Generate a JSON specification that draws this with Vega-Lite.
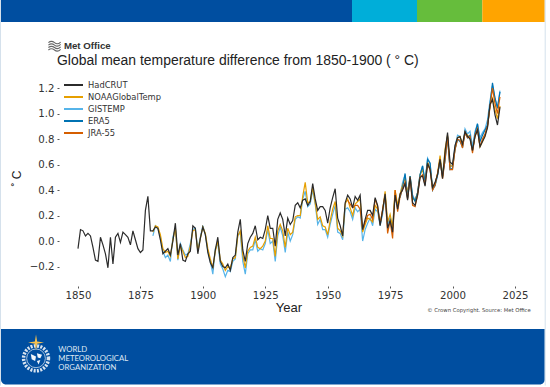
{"$schema":"https://vega.github.io/schema/vega-lite/v6.json","width":460,"height":204,"autosize":{"type":"none"},"padding":{"left":66,"top":80,"right":24,"bottom":103},"background":"#ffffff",
"data":{"values":[{"decoration":"frame"}]},
"title":{"text":"Global mean temperature difference from 1850-1900 ( ° C)","anchor":"start","frame":"group","dx":-9,"dy":77,"offset":9,"font":"Liberation Sans","fontSize":13.94,"fontWeight":"normal","color":"#222222"},
"config":{"view":{"stroke":null}},
"layer":[
{"data":{"values":[
{"year":1850,"HadCRUT":-0.06},{"year":1851,"HadCRUT":0.09},{"year":1852,"HadCRUT":0.08},{"year":1853,"HadCRUT":0.04},{"year":1854,"HadCRUT":0.06},{"year":1855,"HadCRUT":0.04},{"year":1856,"HadCRUT":-0.05},{"year":1857,"HadCRUT":-0.15},{"year":1858,"HadCRUT":-0.16},{"year":1859,"HadCRUT":0.03},
{"year":1860,"HadCRUT":-0.03},{"year":1861,"HadCRUT":-0.10},{"year":1862,"HadCRUT":-0.21},{"year":1863,"HadCRUT":0.03},{"year":1864,"HadCRUT":-0.18},{"year":1865,"HadCRUT":0.03},{"year":1866,"HadCRUT":0.06},{"year":1867,"HadCRUT":-0.01},{"year":1868,"HadCRUT":0.07},{"year":1869,"HadCRUT":0.05},
{"year":1870,"HadCRUT":0.03},{"year":1871,"HadCRUT":-0.03},{"year":1872,"HadCRUT":0.08},{"year":1873,"HadCRUT":0.01},{"year":1874,"HadCRUT":-0.06},{"year":1875,"HadCRUT":-0.09},{"year":1876,"HadCRUT":-0.07},{"year":1877,"HadCRUT":0.24},{"year":1878,"HadCRUT":0.35},{"year":1879,"HadCRUT":0.08},
{"year":1880,"HadCRUT":0.08,"GISTEMP":0.04,"NOAAGlobalTemp":0.07},{"year":1881,"HadCRUT":0.11,"GISTEMP":0.12,"NOAAGlobalTemp":0.12},{"year":1882,"HadCRUT":0.10,"GISTEMP":0.10,"NOAAGlobalTemp":0.11},{"year":1883,"HadCRUT":0.01,"GISTEMP":0.03,"NOAAGlobalTemp":0.05},{"year":1884,"HadCRUT":-0.10,"GISTEMP":-0.08,"NOAAGlobalTemp":-0.06},{"year":1885,"HadCRUT":-0.08,"GISTEMP":-0.13,"NOAAGlobalTemp":-0.09},{"year":1886,"HadCRUT":-0.06,"GISTEMP":-0.11,"NOAAGlobalTemp":-0.08},{"year":1887,"HadCRUT":-0.11,"GISTEMP":-0.16,"NOAAGlobalTemp":-0.12},{"year":1888,"HadCRUT":0.00,"GISTEMP":0.03,"NOAAGlobalTemp":0.01},{"year":1889,"HadCRUT":0.14,"GISTEMP":0.10,"NOAAGlobalTemp":0.10},
{"year":1890,"HadCRUT":-0.11,"GISTEMP":-0.15,"NOAAGlobalTemp":-0.14},{"year":1891,"HadCRUT":-0.02,"GISTEMP":-0.02,"NOAAGlobalTemp":-0.04},{"year":1892,"HadCRUT":-0.15,"GISTEMP":-0.07,"NOAAGlobalTemp":-0.08},{"year":1893,"HadCRUT":-0.16,"GISTEMP":-0.11,"NOAAGlobalTemp":-0.13},{"year":1894,"HadCRUT":-0.10,"GISTEMP":-0.10,"NOAAGlobalTemp":-0.12},{"year":1895,"HadCRUT":-0.08,"GISTEMP":-0.02,"NOAAGlobalTemp":-0.04},{"year":1896,"HadCRUT":0.12,"GISTEMP":0.09,"NOAAGlobalTemp":0.08},{"year":1897,"HadCRUT":0.10,"GISTEMP":0.10,"NOAAGlobalTemp":0.09},{"year":1898,"HadCRUT":-0.10,"GISTEMP":-0.07,"NOAAGlobalTemp":-0.08},{"year":1899,"HadCRUT":0.02,"GISTEMP":0.03,"NOAAGlobalTemp":0.02},
{"year":1900,"HadCRUT":0.11,"GISTEMP":0.12,"NOAAGlobalTemp":0.11},{"year":1901,"HadCRUT":0.05,"GISTEMP":0.05,"NOAAGlobalTemp":0.06},{"year":1902,"HadCRUT":-0.09,"GISTEMP":-0.08,"NOAAGlobalTemp":-0.06},{"year":1903,"HadCRUT":-0.17,"GISTEMP":-0.16,"NOAAGlobalTemp":-0.14},{"year":1904,"HadCRUT":-0.21,"GISTEMP":-0.26,"NOAAGlobalTemp":-0.21},{"year":1905,"HadCRUT":-0.07,"GISTEMP":-0.06,"NOAAGlobalTemp":-0.08},{"year":1906,"HadCRUT":0.03,"GISTEMP":-0.02,"NOAAGlobalTemp":0.00},{"year":1907,"HadCRUT":-0.16,"GISTEMP":-0.18,"NOAAGlobalTemp":-0.15},{"year":1908,"HadCRUT":-0.20,"GISTEMP":-0.22,"NOAAGlobalTemp":-0.18},{"year":1909,"HadCRUT":-0.21,"GISTEMP":-0.28,"NOAAGlobalTemp":-0.23},
{"year":1910,"HadCRUT":-0.18,"GISTEMP":-0.23,"NOAAGlobalTemp":-0.20},{"year":1911,"HadCRUT":-0.23,"GISTEMP":-0.24,"NOAAGlobalTemp":-0.21},{"year":1912,"HadCRUT":-0.13,"GISTEMP":-0.16,"NOAAGlobalTemp":-0.14},{"year":1913,"HadCRUT":-0.11,"GISTEMP":-0.14,"NOAAGlobalTemp":-0.13},{"year":1914,"HadCRUT":0.07,"GISTEMP":0.05,"NOAAGlobalTemp":0.04},{"year":1915,"HadCRUT":0.17,"GISTEMP":0.06,"NOAAGlobalTemp":0.08},{"year":1916,"HadCRUT":-0.07,"GISTEMP":-0.16,"NOAAGlobalTemp":-0.11},{"year":1917,"HadCRUT":-0.16,"GISTEMP":-0.26,"NOAAGlobalTemp":-0.21},{"year":1918,"HadCRUT":-0.02,"GISTEMP":-0.10,"NOAAGlobalTemp":-0.08},{"year":1919,"HadCRUT":0.03,"GISTEMP":-0.07,"NOAAGlobalTemp":-0.05},
{"year":1920,"HadCRUT":0.06,"GISTEMP":-0.07,"NOAAGlobalTemp":-0.04},{"year":1921,"HadCRUT":0.12,"GISTEMP":0.01,"NOAAGlobalTemp":0.03},{"year":1922,"HadCRUT":0.01,"GISTEMP":-0.08,"NOAAGlobalTemp":-0.05},{"year":1923,"HadCRUT":0.03,"GISTEMP":-0.06,"NOAAGlobalTemp":-0.06},{"year":1924,"HadCRUT":0.02,"GISTEMP":-0.07,"NOAAGlobalTemp":-0.04},{"year":1925,"HadCRUT":0.09,"GISTEMP":-0.02,"NOAAGlobalTemp":0.00},{"year":1926,"HadCRUT":0.20,"GISTEMP":0.09,"NOAAGlobalTemp":0.12},{"year":1927,"HadCRUT":0.10,"GISTEMP":-0.02,"NOAAGlobalTemp":0.02},{"year":1928,"HadCRUT":0.10,"GISTEMP":0.00,"NOAAGlobalTemp":0.02},{"year":1929,"HadCRUT":-0.04,"GISTEMP":-0.16,"NOAAGlobalTemp":-0.12},
{"year":1930,"HadCRUT":0.17,"GISTEMP":0.04,"NOAAGlobalTemp":0.08},{"year":1931,"HadCRUT":0.22,"GISTEMP":0.11,"NOAAGlobalTemp":0.13},{"year":1932,"HadCRUT":0.17,"GISTEMP":0.04,"NOAAGlobalTemp":0.08},{"year":1933,"HadCRUT":0.04,"GISTEMP":-0.09,"NOAAGlobalTemp":-0.05},{"year":1934,"HadCRUT":0.18,"GISTEMP":0.07,"NOAAGlobalTemp":0.10},{"year":1935,"HadCRUT":0.13,"GISTEMP":0.00,"NOAAGlobalTemp":0.05},{"year":1936,"HadCRUT":0.16,"GISTEMP":0.05,"NOAAGlobalTemp":0.07},{"year":1937,"HadCRUT":0.28,"GISTEMP":0.17,"NOAAGlobalTemp":0.19},{"year":1938,"HadCRUT":0.30,"GISTEMP":0.19,"NOAAGlobalTemp":0.20},{"year":1939,"HadCRUT":0.26,"GISTEMP":0.18,"NOAAGlobalTemp":0.20},
{"year":1940,"HadCRUT":0.32,"GISTEMP":0.33,"NOAAGlobalTemp":0.35},{"year":1941,"HadCRUT":0.33,"GISTEMP":0.39,"NOAAGlobalTemp":0.46},{"year":1942,"HadCRUT":0.28,"GISTEMP":0.27,"NOAAGlobalTemp":0.30},{"year":1943,"HadCRUT":0.31,"GISTEMP":0.29,"NOAAGlobalTemp":0.31},{"year":1944,"HadCRUT":0.45,"GISTEMP":0.40,"NOAAGlobalTemp":0.42},{"year":1945,"HadCRUT":0.33,"GISTEMP":0.29,"NOAAGlobalTemp":0.30},{"year":1946,"HadCRUT":0.24,"GISTEMP":0.13,"NOAAGlobalTemp":0.17},{"year":1947,"HadCRUT":0.27,"GISTEMP":0.17,"NOAAGlobalTemp":0.19},{"year":1948,"HadCRUT":0.27,"GISTEMP":0.09,"NOAAGlobalTemp":0.12},{"year":1949,"HadCRUT":0.24,"GISTEMP":0.09,"NOAAGlobalTemp":0.11},
{"year":1950,"HadCRUT":0.14,"GISTEMP":0.03,"NOAAGlobalTemp":0.05},{"year":1951,"HadCRUT":0.26,"GISTEMP":0.13,"NOAAGlobalTemp":0.16},{"year":1952,"HadCRUT":0.34,"GISTEMP":0.21,"NOAAGlobalTemp":0.25},{"year":1953,"HadCRUT":0.41,"GISTEMP":0.28,"NOAAGlobalTemp":0.31},{"year":1954,"HadCRUT":0.18,"GISTEMP":0.07,"NOAAGlobalTemp":0.10},{"year":1955,"HadCRUT":0.12,"GISTEMP":0.06,"NOAAGlobalTemp":0.08},{"year":1956,"HadCRUT":0.04,"GISTEMP":0.01,"NOAAGlobalTemp":0.04},{"year":1957,"HadCRUT":0.30,"GISTEMP":0.25,"NOAAGlobalTemp":0.29},{"year":1958,"HadCRUT":0.36,"GISTEMP":0.26,"NOAAGlobalTemp":0.33,"JRA-55":0.32},{"year":1959,"HadCRUT":0.33,"GISTEMP":0.23,"NOAAGlobalTemp":0.26,"JRA-55":0.29},
{"year":1960,"HadCRUT":0.26,"GISTEMP":0.17,"NOAAGlobalTemp":0.20,"JRA-55":0.26},{"year":1961,"HadCRUT":0.35,"GISTEMP":0.26,"NOAAGlobalTemp":0.29,"JRA-55":0.28},{"year":1962,"HadCRUT":0.32,"GISTEMP":0.23,"NOAAGlobalTemp":0.31,"JRA-55":0.28},{"year":1963,"HadCRUT":0.36,"GISTEMP":0.25,"NOAAGlobalTemp":0.33,"JRA-55":0.25},{"year":1964,"HadCRUT":0.09,"GISTEMP":0.00,"NOAAGlobalTemp":0.07,"JRA-55":0.09},{"year":1965,"HadCRUT":0.17,"GISTEMP":0.09,"NOAAGlobalTemp":0.13,"JRA-55":0.15},{"year":1966,"HadCRUT":0.24,"GISTEMP":0.14,"NOAAGlobalTemp":0.18,"JRA-55":0.20},{"year":1967,"HadCRUT":0.24,"GISTEMP":0.18,"NOAAGlobalTemp":0.17,"JRA-55":0.21},{"year":1968,"HadCRUT":0.20,"GISTEMP":0.12,"NOAAGlobalTemp":0.15,"JRA-55":0.17},{"year":1969,"HadCRUT":0.34,"GISTEMP":0.25,"NOAAGlobalTemp":0.28,"JRA-55":0.33},
{"year":1970,"HadCRUT":0.28,"GISTEMP":0.23,"NOAAGlobalTemp":0.25,"JRA-55":0.27},{"year":1971,"HadCRUT":0.12,"GISTEMP":0.12,"NOAAGlobalTemp":0.14,"JRA-55":0.13},{"year":1972,"HadCRUT":0.24,"GISTEMP":0.21,"NOAAGlobalTemp":0.24,"JRA-55":0.25},{"year":1973,"HadCRUT":0.37,"GISTEMP":0.36,"NOAAGlobalTemp":0.39,"JRA-55":0.36},{"year":1974,"HadCRUT":0.10,"GISTEMP":0.13,"NOAAGlobalTemp":0.15,"JRA-55":0.06},{"year":1975,"HadCRUT":0.16,"GISTEMP":0.19,"NOAAGlobalTemp":0.21,"JRA-55":0.16},{"year":1976,"HadCRUT":0.07,"GISTEMP":0.10,"NOAAGlobalTemp":0.11,"JRA-55":0.02},{"year":1977,"HadCRUT":0.36,"GISTEMP":0.38,"NOAAGlobalTemp":0.40,"JRA-55":0.40},{"year":1978,"HadCRUT":0.25,"GISTEMP":0.27,"NOAAGlobalTemp":0.28,"JRA-55":0.23},{"year":1979,"HadCRUT":0.37,"GISTEMP":0.36,"NOAAGlobalTemp":0.37,"ERA5":0.34,"JRA-55":0.35},
{"year":1980,"HadCRUT":0.40,"GISTEMP":0.46,"NOAAGlobalTemp":0.44,"ERA5":0.42,"JRA-55":0.41},{"year":1981,"HadCRUT":0.45,"GISTEMP":0.52,"NOAAGlobalTemp":0.49,"ERA5":0.53,"JRA-55":0.46},{"year":1982,"HadCRUT":0.32,"GISTEMP":0.34,"NOAAGlobalTemp":0.38,"ERA5":0.34,"JRA-55":0.33},{"year":1983,"HadCRUT":0.50,"GISTEMP":0.51,"NOAAGlobalTemp":0.51,"ERA5":0.51,"JRA-55":0.50},{"year":1984,"HadCRUT":0.30,"GISTEMP":0.36,"NOAAGlobalTemp":0.33,"ERA5":0.35,"JRA-55":0.28},{"year":1985,"HadCRUT":0.28,"GISTEMP":0.32,"NOAAGlobalTemp":0.32,"ERA5":0.31,"JRA-55":0.27},{"year":1986,"HadCRUT":0.36,"GISTEMP":0.38,"NOAAGlobalTemp":0.38,"ERA5":0.38,"JRA-55":0.36},{"year":1987,"HadCRUT":0.50,"GISTEMP":0.52,"NOAAGlobalTemp":0.52,"ERA5":0.52,"JRA-55":0.50},{"year":1988,"HadCRUT":0.51,"GISTEMP":0.59,"NOAAGlobalTemp":0.56,"ERA5":0.59,"JRA-55":0.52},{"year":1989,"HadCRUT":0.43,"GISTEMP":0.47,"NOAAGlobalTemp":0.47,"ERA5":0.46,"JRA-55":0.44},
{"year":1990,"HadCRUT":0.61,"GISTEMP":0.65,"NOAAGlobalTemp":0.62,"ERA5":0.64,"JRA-55":0.60},{"year":1991,"HadCRUT":0.56,"GISTEMP":0.61,"NOAAGlobalTemp":0.57,"ERA5":0.61,"JRA-55":0.56},{"year":1992,"HadCRUT":0.42,"GISTEMP":0.42,"NOAAGlobalTemp":0.42,"ERA5":0.40,"JRA-55":0.40},{"year":1993,"HadCRUT":0.46,"GISTEMP":0.43,"NOAAGlobalTemp":0.45,"ERA5":0.44,"JRA-55":0.44},{"year":1994,"HadCRUT":0.52,"GISTEMP":0.51,"NOAAGlobalTemp":0.53,"ERA5":0.52,"JRA-55":0.53},{"year":1995,"HadCRUT":0.64,"GISTEMP":0.65,"NOAAGlobalTemp":0.67,"ERA5":0.63,"JRA-55":0.64},{"year":1996,"HadCRUT":0.49,"GISTEMP":0.53,"NOAAGlobalTemp":0.50,"ERA5":0.51,"JRA-55":0.49},{"year":1997,"HadCRUT":0.70,"GISTEMP":0.66,"NOAAGlobalTemp":0.72,"ERA5":0.63,"JRA-55":0.64},{"year":1998,"HadCRUT":0.85,"GISTEMP":0.81,"NOAAGlobalTemp":0.83,"ERA5":0.82,"JRA-55":0.82},{"year":1999,"HadCRUT":0.62,"GISTEMP":0.58,"NOAAGlobalTemp":0.59,"ERA5":0.56,"JRA-55":0.56},
{"year":2000,"HadCRUT":0.60,"GISTEMP":0.59,"NOAAGlobalTemp":0.59,"ERA5":0.57,"JRA-55":0.56},{"year":2001,"HadCRUT":0.75,"GISTEMP":0.74,"NOAAGlobalTemp":0.72,"ERA5":0.72,"JRA-55":0.72},{"year":2002,"HadCRUT":0.81,"GISTEMP":0.83,"NOAAGlobalTemp":0.81,"ERA5":0.80,"JRA-55":0.80},{"year":2003,"HadCRUT":0.82,"GISTEMP":0.82,"NOAAGlobalTemp":0.82,"ERA5":0.78,"JRA-55":0.79},{"year":2004,"HadCRUT":0.76,"GISTEMP":0.73,"NOAAGlobalTemp":0.76,"ERA5":0.74,"JRA-55":0.73},{"year":2005,"HadCRUT":0.86,"GISTEMP":0.88,"NOAAGlobalTemp":0.85,"ERA5":0.85,"JRA-55":0.85},{"year":2006,"HadCRUT":0.82,"GISTEMP":0.84,"NOAAGlobalTemp":0.83,"ERA5":0.81,"JRA-55":0.81},{"year":2007,"HadCRUT":0.80,"GISTEMP":0.86,"NOAAGlobalTemp":0.81,"ERA5":0.83,"JRA-55":0.82},{"year":2008,"HadCRUT":0.71,"GISTEMP":0.74,"NOAAGlobalTemp":0.71,"ERA5":0.71,"JRA-55":0.69},{"year":2009,"HadCRUT":0.82,"GISTEMP":0.86,"NOAAGlobalTemp":0.82,"ERA5":0.84,"JRA-55":0.83},
{"year":2010,"HadCRUT":0.87,"GISTEMP":0.92,"NOAAGlobalTemp":0.89,"ERA5":0.92,"JRA-55":0.88},{"year":2011,"HadCRUT":0.74,"GISTEMP":0.81,"NOAAGlobalTemp":0.74,"ERA5":0.78,"JRA-55":0.74},{"year":2012,"HadCRUT":0.78,"GISTEMP":0.85,"NOAAGlobalTemp":0.78,"ERA5":0.83,"JRA-55":0.80},{"year":2013,"HadCRUT":0.82,"GISTEMP":0.88,"NOAAGlobalTemp":0.83,"ERA5":0.87,"JRA-55":0.84},{"year":2014,"HadCRUT":0.89,"GISTEMP":0.95,"NOAAGlobalTemp":0.90,"ERA5":0.91,"JRA-55":0.90},{"year":2015,"HadCRUT":1.07,"GISTEMP":1.10,"NOAAGlobalTemp":1.06,"ERA5":1.07,"JRA-55":1.05},{"year":2016,"HadCRUT":1.11,"GISTEMP":1.22,"NOAAGlobalTemp":1.12,"ERA5":1.24,"JRA-55":1.20},{"year":2017,"HadCRUT":0.99,"GISTEMP":1.12,"NOAAGlobalTemp":1.03,"ERA5":1.12,"JRA-55":1.08},{"year":2018,"HadCRUT":0.91,"GISTEMP":1.05,"NOAAGlobalTemp":0.96,"ERA5":1.04,"JRA-55":1.00},{"year":2019,"HadCRUT":1.05,"GISTEMP":1.18,"NOAAGlobalTemp":1.06,"ERA5":1.17,"JRA-55":1.13}
]},
"transform":[{"fold":["GISTEMP","NOAAGlobalTemp","ERA5","JRA-55","HadCRUT"],"as":["dataset","anomaly"]}],
"mark":{"type":"line","strokeWidth":1.2,"clip":false},
"encoding":{
"x":{"field":"year","type":"quantitative","scale":{"domain":[1845.2,2029.42],"nice":false,"zero":false},"axis":{"title":"Year","values":[1850,1875,1900,1925,1950,1975,2000,2025],"tickCount":8,"format":"d","grid":false,"domain":false,"offset":2,"tickSize":2,"tickColor":"#555555","labelFont":"DejaVu Sans","labelFontSize":10.2,"labelColor":"#333333","labelPadding":2,"labelOverlap":false,"titleFont":"Liberation Sans","titleFontSize":13,"titleFontWeight":"normal","titleColor":"#222222","titlePadding":1,"titleX":222.4}},
"y":{"field":"anomaly","type":"quantitative","scale":{"domain":[-0.337,1.263],"nice":false,"zero":false},"axis":{"title":"˚ C","values":[-0.2,0,0.2,0.4,0.6,0.8,1,1.2],"tickCount":8,"format":".1f","grid":false,"domain":false,"offset":7,"tickSize":2,"tickColor":"#555555","labelFont":"DejaVu Sans","labelFontSize":10.2,"labelColor":"#333333","labelPadding":3,"labelOverlap":false,"titleFont":"Liberation Sans","titleFontSize":12,"titleFontWeight":"normal","titleColor":"#222222","titlePadding":6,"titleY":98}},
"color":{"field":"dataset","type":"nominal","scale":{"domain":["HadCRUT","NOAAGlobalTemp","GISTEMP","ERA5","JRA-55"],"range":["#2b2b2b","#e69f00","#56b4e9","#0072b2","#d55e00"]},"legend":{"title":null,"orient":"none","legendX":-3,"legendY":-1,"symbolType":"stroke","symbolSize":361,"symbolStrokeWidth":2,"clipHeight":12,"rowPadding":0,"labelFont":"DejaVu Sans","labelFontSize":8.35,"labelColor":"#333333","labelOffset":4}}
}},
{"mark":{"type":"rect","color":"#004ea0"},"encoding":{"x":{"datum":1819.17},"x2":{"datum":1959.74},"y":{"datum":1.89},"y2":{"datum":1.718}}},
{"mark":{"type":"rect","color":"#00aed9"},"encoding":{"x":{"datum":1959.74},"x2":{"datum":1985.77},"y":{"datum":1.89},"y2":{"datum":1.718}}},
{"mark":{"type":"rect","color":"#66bd3c"},"encoding":{"x":{"datum":1985.77},"x2":{"datum":2011.92},"y":{"datum":1.89},"y2":{"datum":1.718}}},
{"mark":{"type":"rect","color":"#ffa400"},"encoding":{"x":{"datum":2011.92},"x2":{"datum":2036.91},"y":{"datum":1.89},"y2":{"datum":1.718}}},
{"mark":{"type":"rect","color":"#004ea0","cornerRadiusBottomLeft":5,"cornerRadiusBottomRight":5},"encoding":{"x":{"datum":1819.17},"x2":{"datum":2036.91},"y":{"datum":-0.69},"y2":{"datum":-1.125}}},
{"mark":{"type":"rect","color":"#d5e1ec"},"encoding":{"x":{"datum":1818.77},"x2":{"datum":1819.17},"y":{"datum":1.89},"y2":{"datum":-1.133}}},
{"mark":{"type":"rect","color":"#d5e1ec"},"encoding":{"x":{"datum":2036.91},"x2":{"datum":2037.31},"y":{"datum":1.89},"y2":{"datum":-1.133}}},
{"mark":{"type":"point","shape":"M-1,-0.5 Q-0.5,-0.9 0,-0.5 T1,-0.6 M-1,-0.1 Q-0.5,-0.5 0,-0.1 T1,-0.2 M-1,0.3 Q-0.5,-0.1 0,0.3 T1,0.2 M-1,0.7 Q-0.5,0.3 0,0.7 T1,0.6","size":150,"filled":false,"stroke":"#666666","strokeWidth":1.1,"opacity":1},"encoding":{"x":{"datum":1840.6},"y":{"datum":1.532}}},
{"mark":{"type":"text","text":"Met Office","align":"left","baseline":"middle","font":"Liberation Sans","fontWeight":"bold","fontSize":9.7,"color":"#333333"},"encoding":{"x":{"datum":1844.36},"y":{"datum":1.532}}},
{"mark":{"type":"text","text":"© Crown Copyright. Source: Met Office","align":"right","baseline":"middle","font":"DejaVu Sans","fontSize":5.3,"color":"#444444"},"encoding":{"x":{"datum":2031.3},"y":{"datum":-0.539}}},
{"mark":{"type":"text","text":"WORLD","align":"left","baseline":"middle","font":"Lato","fontSize":7.75,"color":"#dfe8f3"},"encoding":{"x":{"datum":1842.1},"y":{"datum":-0.851}}},
{"mark":{"type":"text","text":"METEOROLOGICAL","align":"left","baseline":"middle","font":"Lato","fontSize":7.75,"color":"#dfe8f3"},"encoding":{"x":{"datum":1842.1},"y":{"datum":-0.925}}},
{"mark":{"type":"text","text":"ORGANIZATION","align":"left","baseline":"middle","font":"Lato","fontSize":7.75,"color":"#dfe8f3"},"encoding":{"x":{"datum":1842.1},"y":{"datum":-0.998}}},
{"mark":{"type":"point","shape":"circle","size":620,"filled":false,"stroke":"#ffffff","strokeWidth":3.5,"strokeDash":[2,1.3],"opacity":0.85},"encoding":{"x":{"datum":1833.19},"y":{"datum":-0.92}}},
{"mark":{"type":"point","shape":"circle","size":350,"filled":false,"stroke":"#ffffff","strokeWidth":0.8,"opacity":0.8},"encoding":{"x":{"datum":1833.19},"y":{"datum":-0.92}}},
{"mark":{"type":"point","shape":"M-0.6,-0.5 L0,-0.2 L-0.1,0.3 L-0.5,0.1 Z M0.1,-0.6 L0.7,-0.4 L0.5,0 L0.2,-0.1 Z M0.1,0.3 L0.5,0.2 L0.3,0.7 Z","size":300,"filled":true,"fill":"#ffffff","stroke":null,"opacity":0.95},"encoding":{"x":{"datum":1833.19},"y":{"datum":-0.92}}},
{"mark":{"type":"point","shape":"M0,-1 L0.14,-0.14 L1,0 L0.14,0.14 L0,1 L-0.14,0.14 L-1,0 L-0.14,-0.14 Z","size":256,"filled":true,"fill":"#f6c14e","stroke":null,"opacity":1},"encoding":{"x":{"datum":1833.19},"y":{"datum":-0.796}}}
]}
